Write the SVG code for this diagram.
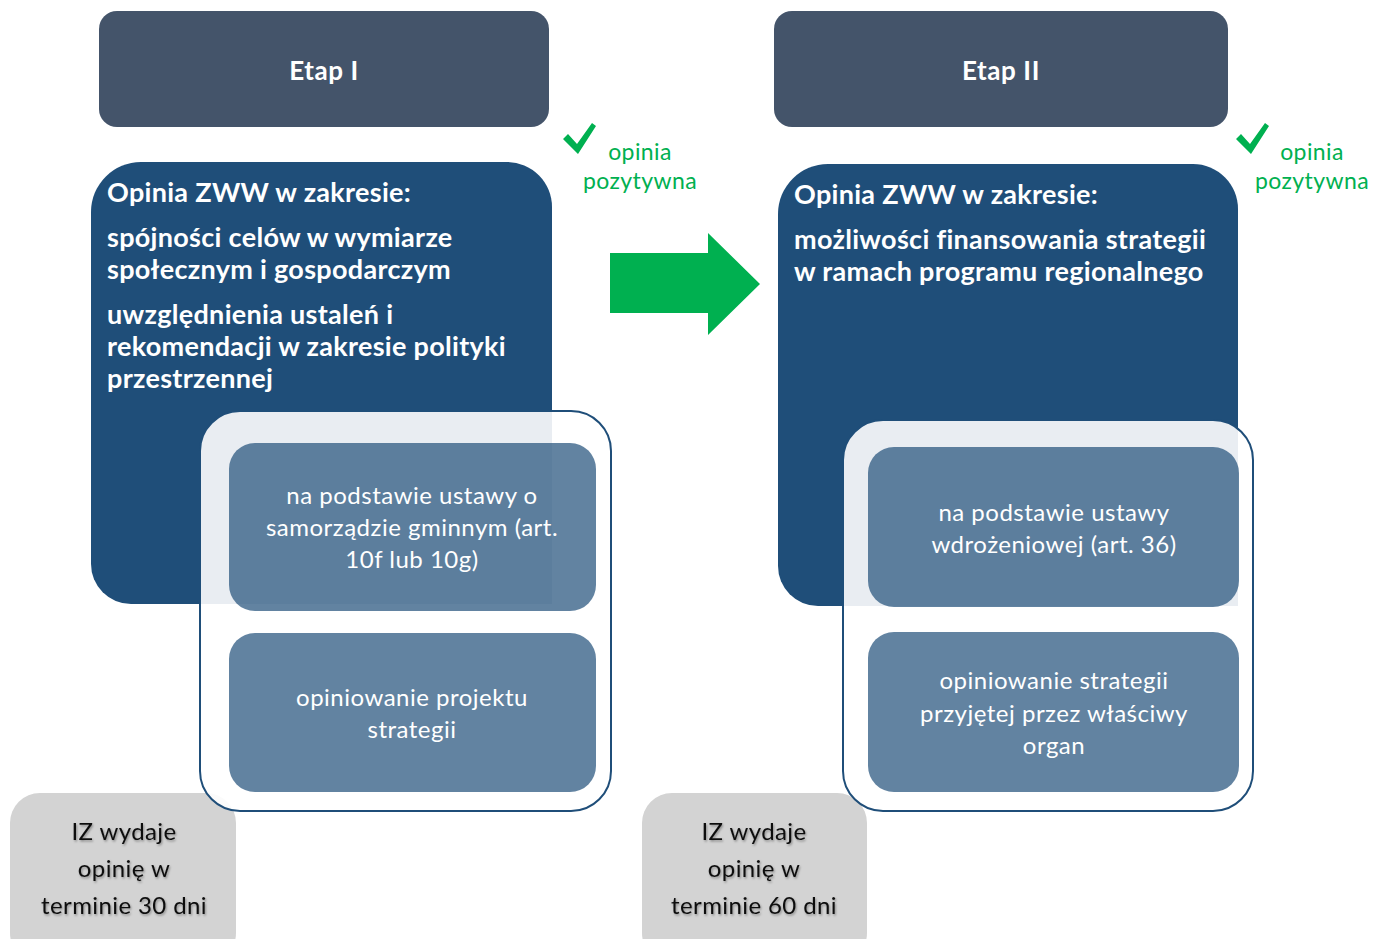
<svg xmlns="http://www.w3.org/2000/svg" width="1373" height="939" viewBox="0 0 1373 939">
<defs>
<style>
.etap{fill:#44546A}
.etapT{font-family:Lato,"Liberation Sans",sans-serif;font-weight:bold;font-size:26px;letter-spacing:0.6px;fill:#fff;text-anchor:middle}
.dark{fill:#1F4E79}
.hd{font-family:Lato,"Liberation Sans",sans-serif;font-weight:bold;font-size:27px;letter-spacing:0.3px;fill:#fff}
.cont{fill:#fff;fill-opacity:0.9;stroke:#1F4E79;stroke-width:2}
.inner{fill:#1F4E79;fill-opacity:0.7}
.inT{font-family:Lato,"Liberation Sans",sans-serif;font-size:24px;letter-spacing:0.5px;fill:#fff;text-anchor:middle}
.gray{fill:#D3D3D3}
.grT{font-family:Lato,"Liberation Sans",sans-serif;font-size:24px;letter-spacing:0.4px;fill:#111;text-anchor:middle}
.grn{font-family:Lato,"Liberation Sans",sans-serif;font-size:23px;letter-spacing:0.4px;fill:#00B050;text-anchor:middle}
</style>
<filter id="sh" x="-10%" y="-10%" width="120%" height="130%">
<feDropShadow dx="1" dy="1.5" stdDeviation="1" flood-color="#000" flood-opacity="0.35"/>
</filter>
</defs>
<rect width="1373" height="939" fill="#fff"/>

<g id="etap1"><rect class="etap" x="99" y="11" width="450" height="116" rx="18"/><text class="etapT" x="324" y="80">Etap I</text></g>
<g id="etap2"><rect class="etap" x="774" y="11" width="454" height="116" rx="18"/><text class="etapT" x="1001" y="80">Etap II</text></g>

<g id="opinia1">
<path class="dark" d="M141 162 H507 A45 45 0 0 1 552 207 V604 H131 A40 40 0 0 1 91 564 V212 A50 50 0 0 1 141 162 Z"/>
<text class="hd" x="107" y="202">Opinia ZWW w zakresie:</text>
<text class="hd" x="107" y="247">spójności celów w wymiarze</text>
<text class="hd" x="107" y="279">społecznym i gospodarczym</text>
<text class="hd" x="107" y="324">uwzględnienia ustaleń i</text>
<text class="hd" x="107" y="356">rekomendacji w zakresie polityki</text>
<text class="hd" x="107" y="388">przestrzennej</text>
</g>
<g id="opinia2">
<path class="dark" d="M828 164 H1193 A45 45 0 0 1 1238 209 V606 H818 A40 40 0 0 1 778 566 V214 A50 50 0 0 1 828 164 Z"/>
<text class="hd" x="794" y="204">Opinia ZWW w zakresie:</text>
<text class="hd" x="794" y="249">możliwości finansowania strategii</text>
<text class="hd" x="794" y="281">w ramach programu regionalnego</text>
</g>

<g id="iz1"><rect class="gray" x="10" y="793" width="226" height="170" rx="30"/>
<g filter="url(#sh)"><text class="grT" x="124" y="840">IZ wydaje</text><text class="grT" x="124" y="877">opinię w</text><text class="grT" x="124" y="914">terminie 30 dni</text></g></g>
<g id="iz2"><rect class="gray" x="642" y="793" width="225" height="170" rx="30"/>
<g filter="url(#sh)"><text class="grT" x="754" y="840">IZ wydaje</text><text class="grT" x="754" y="877">opinię w</text><text class="grT" x="754" y="914">terminie 60 dni</text></g></g>

<g id="podstawa1">
<rect class="cont" x="200" y="411" width="411" height="400" rx="40"/>
<rect class="inner" x="229" y="443" width="367" height="168" rx="26"/>
<text class="inT" x="412" y="504">na podstawie ustawy o</text>
<text class="inT" x="412" y="536">samorządzie gminnym (art.</text>
<text class="inT" x="412" y="568">10f lub 10g)</text>
<rect class="inner" x="229" y="633" width="367" height="159" rx="26"/>
<text class="inT" x="412" y="706">opiniowanie projektu</text>
<text class="inT" x="412" y="738">strategii</text>
</g>
<g id="podstawa2">
<rect class="cont" x="843" y="420" width="410" height="391" rx="40"/>
<rect class="inner" x="868" y="447" width="371" height="160" rx="26"/>
<text class="inT" x="1054" y="521">na podstawie ustawy</text>
<text class="inT" x="1054" y="553">wdrożeniowej (art. 36)</text>
<rect class="inner" x="868" y="632" width="371" height="160" rx="26"/>
<text class="inT" x="1054" y="689">opiniowanie strategii</text>
<text class="inT" x="1054" y="722">przyjętej przez właściwy</text>
<text class="inT" x="1054" y="754">organ</text>
</g>

<g id="pozytywna1">
<path d="M563 139 L568 134 L577 144 L592 123 L596 126 L578 154 Z" fill="#00B050"/>
<text class="grn" x="640" y="160">opinia</text>
<text class="grn" x="640" y="189">pozytywna</text>
</g>
<g id="pozytywna2">
<path d="M1236 139 L1241 134 L1250 144 L1265 123 L1269 126 L1251 154 Z" fill="#00B050"/>
<text class="grn" x="1312" y="160">opinia</text>
<text class="grn" x="1312" y="189">pozytywna</text>
</g>

<g id="connectors">
<path d="M610 253 H708 V233 L760 284 L708 335 V313 H610 Z" fill="#00B050"/>
</g>
</svg>
